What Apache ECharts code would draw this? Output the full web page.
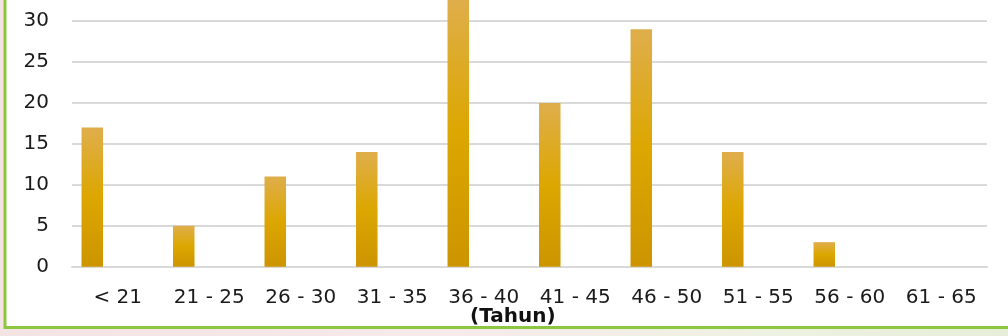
<!DOCTYPE html>
<html>
<head>
<meta charset="utf-8">
<script src="https://cdn.jsdelivr.net/npm/echarts@6/dist/echarts.min.js"></script>
<style>
html,body{margin:0;padding:0;width:1008px;height:336px;overflow:hidden;
background:linear-gradient(90deg,#f4e3e3 0%,#f6eaea 45%,#eef2e2 75%,#e6eed8 100%);}
#c{width:1008px;height:336px;}
</style>
</head>
<body>
<div id="c"></div>
<script>
var categories = ['< 21','21 - 25','26 - 30','31 - 35','36 - 40','41 - 45','46 - 50','51 - 55','56 - 60','61 - 65'];
var values = [17, 5, 11, 14, 33, 20, 29, 14, 3, 0];
var emptySeries = [null, null, null, null, null, null, null, null, null, null];
var yMax = 30, yInterval = 5;
var axisTitle = '(Tahun)';

var chart = echarts.init(document.getElementById('c'), null, {renderer:'canvas'});
var barColor = new echarts.graphic.LinearGradient(0,0,0,1,[
  {offset:0,color:'#dfae4c'},
  {offset:0.5,color:'#dca700'},
  {offset:1,color:'#cc9500'}
]);
chart.setOption({
  backgroundColor:'transparent',
  animation:false,
  graphic:[
    {type:'rect',z:-10,silent:true,shape:{x:5,y:-10,width:1020,height:337.5},
     style:{fill:'#ffffff',stroke:'#8dc63f',lineWidth:3}},
    {type:'text',z:10,left:470,top:307,style:{text:axisTitle,font:'bold 20px "DejaVu Sans"',fill:'#111'}}
  ],
  grid:{left:72,right:21,top:21,bottom:69.3,containLabel:false},
  xAxis:{type:'category',data:categories,
    axisLine:{show:true,lineStyle:{color:'#d9d9d9',width:2}},
    axisTick:{show:false},
    axisLabel:{margin:21,color:'#1a1a1a',fontFamily:'DejaVu Sans',fontSize:20,interval:0}
  },
  yAxis:{type:'value',min:0,max:yMax,interval:yInterval,
    axisLine:{show:false},axisTick:{show:false},
    splitLine:{lineStyle:{color:'#d9d9d9',width:2}},
    axisLabel:{margin:23,color:'#1a1a1a',fontFamily:'DejaVu Sans',fontSize:20}
  },
  series:[
    {type:'bar',clip:false,data:values,barWidth:21.5,barGap:'137%',itemStyle:{color:barColor}},
    {type:'bar',clip:false,data:emptySeries,barWidth:21.5,itemStyle:{color:'#8dc63f'}}
  ]
});
</script>
</body>
</html>
